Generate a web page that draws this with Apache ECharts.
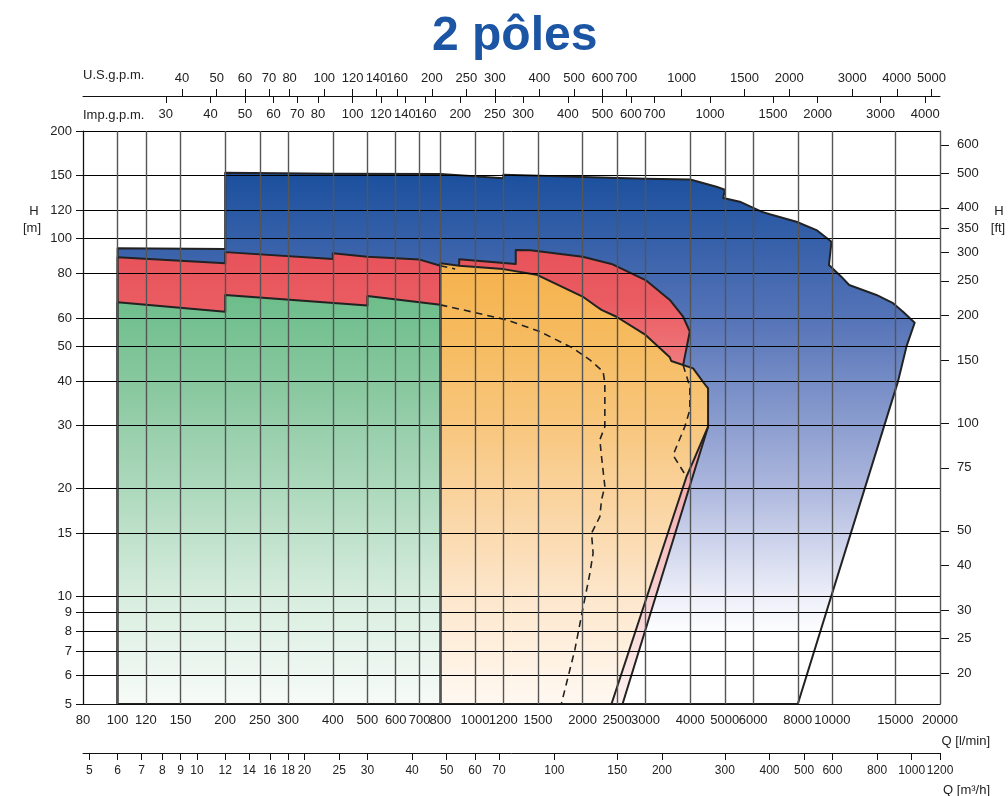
<!DOCTYPE html>
<html><head><meta charset="utf-8">
<script src="https://cdn.jsdelivr.net/npm/echarts@6/dist/echarts.min.js"></script>
<style>html,body{margin:0;padding:0;background:#fff}#c{width:1008px;height:796px}</style>
</head><body><div id="c"></div>
<script>
const FONT = '"Liberation Sans", Arial, Helvetica, sans-serif';

// ---- tick labels ----
const qTicks   = [80,100,120,150,200,250,300,400,500,600,700,800,1000,1200,1500,2000,2500,3000,4000,5000,6000,8000,10000,15000,20000];
const m3hTicks = [5,6,7,8,9,10,12,14,16,18,20,25,30,40,50,60,70,100,150,200,300,400,500,600,800,1000,1200];
const usTicks  = [40,50,60,70,80,100,120,140,160,200,250,300,400,500,600,700,1000,1500,2000,3000,4000,5000];
const impTicks = [30,40,50,60,70,80,100,120,140,160,200,250,300,400,500,600,700,1000,1500,2000,3000,4000];
const hTicks   = [5,6,7,8,9,10,15,20,30,40,50,60,80,100,120,150,200];
const ftTicks  = [20,25,30,40,50,75,100,150,200,250,300,350,400,500,600];

// ---- unit conversions ----
const Q_MIN = 80, Q_MAX = 20000, H_MIN = 5, H_MAX = 200;
const L_PER_USGAL = 3.785411784, L_PER_IMPGAL = 4.54609, LMIN_PER_M3H = 1000/60, FT_PER_M = 3.28084;

// ---- performance areas: [Q l/min, H m] ----
const blueArea = [[100,94],[200,93.5],[200,152.9],[400,152],[800,151.6],[1200,147.5],[1200,151],[3000,147],[4000,146.4],
  [4737,139.7],[5000,137],[4950,130],[5505,126.9],[6330,119],[6680,117],[7930,111.5],[9025,105.7],[9940,98],
  [9780,84.4],[10590,78.3],[11140,74.2],[13280,69.6],[14780,66],[15760,62.5],[16990,58.2],[16110,49.9],[15260,39.9],
  [8000,5],[100,5]];
const redLeftArea = [[100,88.7],[200,85.3],[200,91.7],[400,87.7],[400,91],[500,89],[700,87.4],[800,84],[800,5],[100,5]];
const redRightArea = [[903,84],[903,87.6],[1300,85],[1300,93],[1429,92.8],[2000,89],[2409,85],[3000,76.6],[3508,67.4],
  [3822,60.5],[3990,55],[3822,44.3],[4488,29.8],[2587,5],[903,5]];
const orangeArea = [[800,85.4],[903,84],[1200,82.2],[1486,79.3],[2000,68.9],[2188,64.6],[2259,63.2],[2488,60.5],[3000,53.8],
  [3508,46.6],[3540,45.5],[4076,43.4],[4443,38.6],[4488,38.2],[4488,29.8],[4089,24],[3905,21.6],[2409,5],[800,5]];
const greenArea = [[100,66.4],[200,62.5],[200,69.6],[500,65],[500,69.1],[800,65.3],[800,5],[100,5]];

// ---- dashed curves ----
const dashMain = [[800,65.3],[927,63.2],[1225,59.3],[1518,55],[1882,49.4],[2096,45.8],[2283,42.5],[2308,39.4],[2308,29.8],
  [2235,27.4],[2259,24.6],[2308,20.3],[2259,18.6],[2235,16.7],[2118,15],[2140,13.2],[2096,11.6],[2000,9.16],[1902,7.08],[1746,5.03]];
const dashRight = [[3822,44.3],[3990,38.6],[3990,33.2],[3864,29.8],[3662,26.2],[3584,24.8],[3905,21.6]];
const dashShort = [[800,84],[880,82.3]];

function grad(stops){
  return {type:'linear', x:0, y:0, x2:0, y2:1, colorStops: stops.map(s=>({offset:s[0], color:s[1]}))};
}
const blueFill   = grad([[0,'#1a4f9d'],[0.28,'#5674b8'],[0.58,'#a9b4dc'],[0.8,'#eef0f9'],[0.87,'#ffffff'],[1,'#ffffff']]);
const redFill    = grad([[0,'#e8525a'],[0.12,'#ea5c62'],[0.25,'#ef7a7d'],[0.53,'#f4b0b1'],[1,'#fdf1f1']]);
const orangeFill = grad([[0,'#f5b24c'],[0.17,'#f6bb5f'],[0.36,'#f8c67c'],[0.54,'#fad4a0'],[0.76,'#fde7cd'],[1,'#fff9f2']]);
const greenFill  = grad([[0,'#6cbd8a'],[0.24,'#8bc9a1'],[0.45,'#a9d7b9'],[0.75,'#d9eee0'],[1,'#f7fbf8']]);

function areaSeries(name, data, fill, z){
  return {
    type:'custom', name, z, silent:true, coordinateSystem:'cartesian2d', xAxisIndex:0, yAxisIndex:0,
    data: data,
    renderItem: function(params, api){
      if (params.dataIndex !== 0) return null;
      const pts = data.map(d => api.coord(d));
      return {type:'polygon', shape:{points:pts}, style:{fill:fill, stroke:'#222', lineWidth:2, lineJoin:'round'}};
    }
  };
}
function dashSeries(data){
  return {type:'line', data, xAxisIndex:0, yAxisIndex:0, showSymbol:false, symbol:'none', silent:true, z:4,
    lineStyle:{color:'#222', width:1.6, type:[7,5]}};
}
const fmt = v => String(Math.round(v));
const lbl = {fontFamily:FONT, fontSize:13, color:'#222', hideOverlap:false, showMinLabel:true, showMaxLabel:true, formatter:fmt};

const chart = echarts.init(document.getElementById('c'), null, {renderer:'canvas'});
chart.setOption({
  animation:false,
  backgroundColor:'#fff',
  title:{text:'2 pôles', left:427, top:8, textStyle:{fontFamily:FONT, fontSize:48, fontWeight:'bold', color:'#1b55a4'}},
  grid:{left:83, right:68, top:131, bottom:92, containLabel:false, outerBoundsMode:'none'},
  xAxis:[
    {type:'log', min:Q_MIN, max:Q_MAX, position:'bottom', z:5,
      axisLine:{show:true, lineStyle:{color:'#111', width:1}},
      axisTick:{show:false, customValues:qTicks},
      axisLabel:Object.assign({customValues:qTicks, margin:10}, lbl),
      splitLine:{show:true, lineStyle:{color:'#555', width:1.4}}},
    {type:'log', min:Q_MIN/LMIN_PER_M3H, max:Q_MAX/LMIN_PER_M3H, position:'bottom', offset:49,
      axisLine:{show:true, lineStyle:{color:'#111', width:1}},
      axisTick:{show:true, length:7, customValues:m3hTicks, lineStyle:{color:'#111'}},
      axisLabel:Object.assign({}, lbl, {customValues:m3hTicks, margin:12, fontSize:12}),
      splitLine:{show:false}},
    {type:'log', min:Q_MIN/L_PER_USGAL, max:Q_MAX/L_PER_USGAL, position:'top', offset:35,
      axisLine:{show:true, lineStyle:{color:'#111', width:1}},
      axisTick:{show:true, length:7, customValues:usTicks, lineStyle:{color:'#111'}},
      axisLabel:Object.assign({customValues:usTicks, margin:11}, lbl),
      splitLine:{show:false}},
    {type:'log', min:Q_MIN/L_PER_IMPGAL, max:Q_MAX/L_PER_IMPGAL, position:'top', offset:35,
      axisLine:{show:false},
      axisTick:{show:true, inside:true, length:7, customValues:impTicks, lineStyle:{color:'#111'}},
      axisLabel:Object.assign({customValues:impTicks, inside:true, margin:12}, lbl),
      splitLine:{show:false}}
  ],
  yAxis:[
    {type:'log', min:H_MIN, max:H_MAX, position:'left', z:5,
      axisLine:{show:true, lineStyle:{color:'#111', width:1}},
      axisTick:{show:true, length:7, customValues:hTicks, lineStyle:{color:'#111'}},
      axisLabel:Object.assign({customValues:hTicks, margin:11}, lbl),
      splitLine:{show:true, lineStyle:{color:'#000', width:1}}},
    {type:'log', min:H_MIN*FT_PER_M, max:H_MAX*FT_PER_M, position:'right',
      axisLine:{show:true, lineStyle:{color:'#111', width:1}},
      axisTick:{show:true, length:9, customValues:ftTicks, lineStyle:{color:'#111'}},
      axisLabel:Object.assign({customValues:ftTicks, margin:17}, lbl),
      splitLine:{show:false}}
  ],
  graphic:[
    {type:'text', left:83, top:69, style:{text:'U.S.g.p.m.', font:'13px '+FONT, fill:'#222'}},
    {type:'text', left:83, top:109, style:{text:'Imp.g.p.m.', font:'13px '+FONT, fill:'#222'}},
    {type:'text', x:34, y:211, style:{text:'H', font:'13px '+FONT, fill:'#222', textAlign:'center', textVerticalAlign:'middle'}},
    {type:'text', x:32, y:228, style:{text:'[m]', font:'13px '+FONT, fill:'#222', textAlign:'center', textVerticalAlign:'middle'}},
    {type:'text', x:999, y:211, style:{text:'H', font:'13px '+FONT, fill:'#222', textAlign:'center', textVerticalAlign:'middle'}},
    {type:'text', x:998, y:228, style:{text:'[ft]', font:'13px '+FONT, fill:'#222', textAlign:'center', textVerticalAlign:'middle'}},
    {type:'text', x:990, y:741, style:{text:'Q [l/min]', font:'13px '+FONT, fill:'#222', textAlign:'right', textVerticalAlign:'middle'}},
    {type:'text', x:990, y:790, style:{text:'Q [m³/h]', font:'13px '+FONT, fill:'#222', textAlign:'right', textVerticalAlign:'middle'}}
  ],
  series:[
    areaSeries('blue', blueArea, blueFill, 1),
    areaSeries('redLeft', redLeftArea, redFill, 1),
    areaSeries('redRight', redRightArea, redFill, 1),
    areaSeries('orange', orangeArea, orangeFill, 1),
    areaSeries('green', greenArea, greenFill, 1),
    dashSeries(dashMain),
    dashSeries(dashRight),
    dashSeries(dashShort)
  ]
});
</script></body></html>
